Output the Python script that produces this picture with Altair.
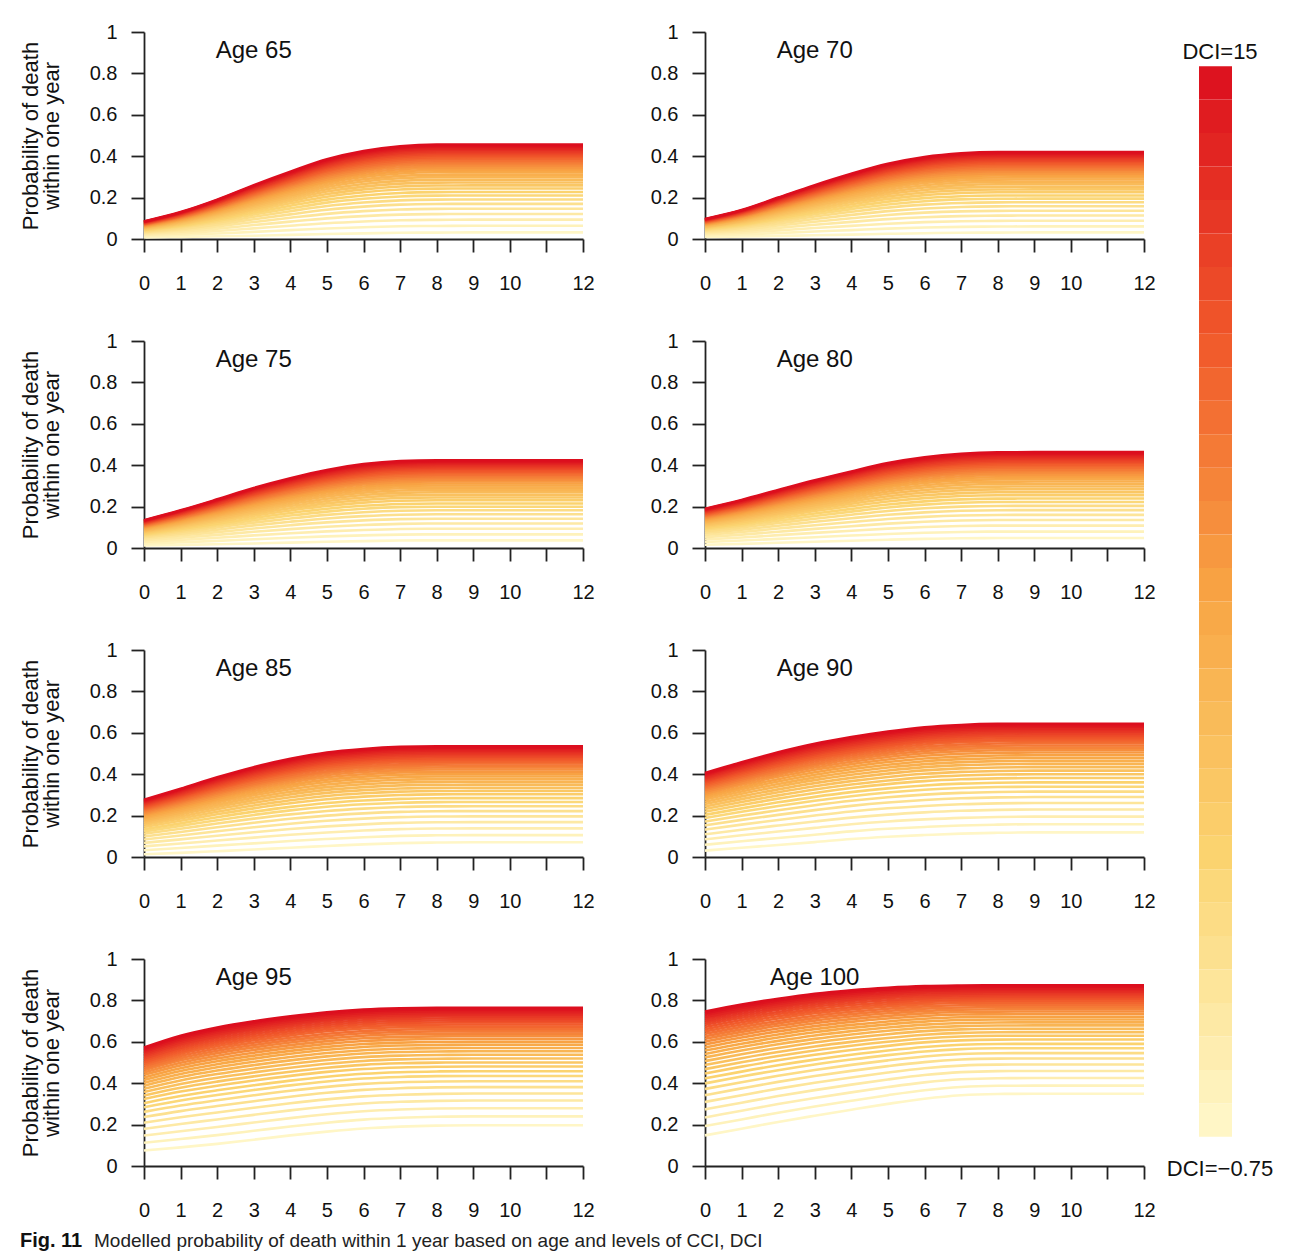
import altair as alt
import pandas as pd

# ---------------- data ----------------
X_YEARS = [0, 1, 2, 3, 4, 5, 6, 7, 8, 9, 10, 11, 12]

AGES = ["Age 65", "Age 70", "Age 75", "Age 80", "Age 85", "Age 90", "Age 95", "Age 100"]

# highest curve (DCI = 15) for each age
TOP_65 = [0.085, 0.13, 0.19, 0.26, 0.325, 0.385, 0.425, 0.448, 0.456, 0.456, 0.456, 0.456, 0.456]
TOP_70 = [0.097, 0.14, 0.20, 0.26, 0.315, 0.363, 0.396, 0.414, 0.42, 0.42, 0.42, 0.42, 0.42]
TOP_75 = [0.134, 0.182, 0.235, 0.29, 0.337, 0.377, 0.405, 0.42, 0.424, 0.424, 0.424, 0.424, 0.424]
TOP_80 = [0.19, 0.232, 0.28, 0.327, 0.37, 0.41, 0.438, 0.455, 0.462, 0.463, 0.463, 0.463, 0.463]
TOP_85 = [0.277, 0.33, 0.385, 0.434, 0.474, 0.505, 0.522, 0.532, 0.535, 0.535, 0.535, 0.535, 0.535]
TOP_90 = [0.406, 0.458, 0.506, 0.547, 0.579, 0.606, 0.627, 0.638, 0.643, 0.644, 0.644, 0.644, 0.644]
TOP_95 = [0.572, 0.629, 0.669, 0.699, 0.723, 0.743, 0.756, 0.762, 0.764, 0.764, 0.764, 0.764, 0.764]
TOP_100 = [0.746, 0.78, 0.808, 0.832, 0.849, 0.861, 0.869, 0.872, 0.873, 0.873, 0.873, 0.873, 0.873]

# lowest curve (DCI = -0.75) for each age
BOT_65 = [0.008, 0.01, 0.013, 0.016, 0.02, 0.024, 0.027, 0.03, 0.031, 0.032, 0.032, 0.032, 0.032]
BOT_70 = [0.01, 0.012, 0.015, 0.018, 0.021, 0.025, 0.028, 0.03, 0.031, 0.032, 0.032, 0.032, 0.032]
BOT_75 = [0.012, 0.015, 0.018, 0.022, 0.026, 0.03, 0.033, 0.036, 0.037, 0.037, 0.037, 0.037, 0.037]
BOT_80 = [0.016, 0.02, 0.025, 0.03, 0.035, 0.04, 0.044, 0.047, 0.048, 0.048, 0.048, 0.048, 0.048]
BOT_85 = [0.013, 0.02, 0.028, 0.036, 0.045, 0.053, 0.061, 0.067, 0.07, 0.071, 0.071, 0.071, 0.071]
BOT_90 = [0.031, 0.045, 0.058, 0.072, 0.087, 0.098, 0.106, 0.113, 0.117, 0.119, 0.119, 0.119, 0.119]
BOT_95 = [0.075, 0.09, 0.107, 0.127, 0.148, 0.166, 0.181, 0.19, 0.195, 0.197, 0.197, 0.197, 0.197]
BOT_100 = [0.148, 0.18, 0.213, 0.243, 0.272, 0.30, 0.325, 0.342, 0.348, 0.349, 0.349, 0.349, 0.349]

TOPS = [TOP_65, TOP_70, TOP_75, TOP_80, TOP_85, TOP_90, TOP_95, TOP_100]
BOTS = [BOT_65, BOT_70, BOT_75, BOT_80, BOT_85, BOT_90, BOT_95, BOT_100]

DCI_LEVELS = [-0.75, -0.25, 0.25, 0.75, 1.25, 1.75, 2.25, 2.75, 3.25, 3.75, 4.25,
              4.75, 5.25, 5.75, 6.25, 6.75, 7.25, 7.75, 8.25, 8.75, 9.25, 9.75,
              10.25, 10.75, 11.25, 11.75, 12.25, 12.75, 13.25, 13.75, 14.25, 14.75, 15.0]
BAND_POSITION = [0, 0.075, 0.145, 0.21, 0.27, 0.325, 0.375, 0.42, 0.46, 0.5, 0.535,
                 0.568, 0.6, 0.63, 0.658, 0.685, 0.71, 0.735, 0.758, 0.78, 0.8, 0.82,
                 0.84, 0.858, 0.876, 0.893, 0.91, 0.926, 0.942, 0.957, 0.972, 0.986, 1.0]

Y_TICKS = [0, 0.2, 0.4, 0.6, 0.8, 1]
CAPTION_BOLD = "Fig. 11"
CAPTION_TEXT = "Modelled probability of death within 1 year based on age and levels of CCI, DCI"
LEGEND_TOP = "DCI=15"
LEGEND_BOTTOM = "DCI=\u22120.75"

COLOR_STOPS = [-0.75, 3.19, 7.125, 11.06, 15]
COLOR_RANGE = ["#FFF6C6", "#FBD470", "#F8A444", "#F0562A", "#DC0E1E"]

FONT = "Liberation Sans"

rows = []
for age, top, bot in zip(AGES, TOPS, BOTS):
    for dci, f in zip(DCI_LEVELS, BAND_POSITION):
        for x, t, b in zip(X_YEARS, top, bot):
            rows.append({"age": age, "dci": dci, "x": x, "p": b + f * (t - b)})
df = pd.DataFrame(rows)

color_scale = alt.Scale(domain=COLOR_STOPS, range=COLOR_RANGE, interpolate="rgb")

PANEL_W = 439
PANEL_H = 207
LABEL_X = 3.0
LABEL_Y = 0.91


def panel(i):
    age = AGES[i]
    left = (i % 2 == 0)
    xaxis = alt.Axis(values=X_YEARS, labelExpr="datum.value == 11 ? '' : datum.label",
                     tickSize=13, labelPadding=21, labelFontSize=20, labelFont=FONT,
                     labelColor="#111", domainColor="#222", tickColor="#222",
                     domainWidth=1.8, tickWidth=1.8, grid=False, title=None,
                     labelFlush=False, labelOverlap=False)
    yargs = dict(values=Y_TICKS, format="~g", tickSize=13, labelPadding=14,
                 labelFontSize=20, labelFont=FONT, labelColor="#111",
                 domainColor="#222", tickColor="#222", domainWidth=1.8, tickWidth=1.8,
                 grid=False, labelFlush=False, labelOverlap=False)
    if left:
        yaxis = alt.Axis(title=["Probability of death", "within one year"],
                         titleFontSize=22, titleFont=FONT, titleFontWeight="normal",
                         titleColor="#111", titlePadding=26, titleLineHeight=21, **yargs)
    else:
        yaxis = alt.Axis(title=None, **yargs)

    xs = alt.Scale(domain=[0, 12], nice=False, zero=False)
    ys = alt.Scale(domain=[0, 1], nice=False)
    sub = df[df.age == age]
    lines = alt.Chart(sub).mark_line(strokeWidth=2.6, interpolate="monotone").encode(
        x=alt.X("x:Q", scale=xs, axis=xaxis),
        y=alt.Y("p:Q", scale=ys, axis=yaxis),
        color=alt.Color("dci:Q", scale=color_scale, legend=None),
        detail="dci:Q",
    )
    label = alt.Chart(pd.DataFrame({"x": [LABEL_X], "p": [LABEL_Y], "t": [age]})).mark_text(
        fontSize=24, font=FONT, color="#111", align="center", baseline="middle"
    ).encode(x=alt.X("x:Q", scale=xs, axis=xaxis), y=alt.Y("p:Q", scale=ys, axis=yaxis),
             text="t:N")
    return alt.layer(lines, label).properties(width=PANEL_W, height=PANEL_H)


grid = alt.concat(*[panel(i) for i in range(8)], columns=2,
                  spacing={"row": 38, "column": 55})

# colour bar
bar_df = pd.DataFrame({
    "k": list(range(len(DCI_LEVELS) - 1)),
    "k2": list(range(1, len(DCI_LEVELS))),
    "dci": DCI_LEVELS[:-1],
})
bar_y = alt.Scale(domain=[-1.708, 33.02], nice=False, zero=False)
bar = alt.Chart(bar_df).mark_rect().encode(
    y=alt.Y("k:Q", scale=bar_y, axis=None),
    y2="k2:Q",
    x=alt.value(35), x2=alt.value(68),
    color=alt.Color("dci:Q", scale=color_scale, legend=None),
)
leg_txt = alt.Chart(pd.DataFrame({"k": [32.42, -0.96], "t": [LEGEND_TOP, LEGEND_BOTTOM]})).mark_text(
    fontSize=22, font=FONT, color="#111", align="center", baseline="middle"
).encode(y=alt.Y("k:Q", scale=bar_y, axis=None), x=alt.value(56), text="t:N")
colorbar = alt.layer(bar, leg_txt).properties(width=110, height=1162)

top = alt.hconcat(grid, colorbar, spacing=8)

cap1 = alt.Chart(pd.DataFrame({"t": [CAPTION_BOLD]})).mark_text(
    fontSize=20, font=FONT, fontWeight="bold", align="left", baseline="middle",
    color="#111").encode(x=alt.value(-124), y=alt.value(10), text="t:N")
cap2 = alt.Chart(pd.DataFrame({"t": [CAPTION_TEXT]})).mark_text(
    fontSize=19, font=FONT, align="left", baseline="middle", color="#222").encode(
    x=alt.value(-50), y=alt.value(10), text="t:N")
caption = alt.layer(cap1, cap2).properties(width=900, height=20)

chart = alt.vconcat(top, caption, spacing=11).properties(
    padding={"left": 11, "top": 14, "right": 0, "bottom": 0}
).configure_view(stroke=None).configure_concat(spacing=0)

chart.save("out.html", embed_options={"renderer": "svg", "actions": False})
